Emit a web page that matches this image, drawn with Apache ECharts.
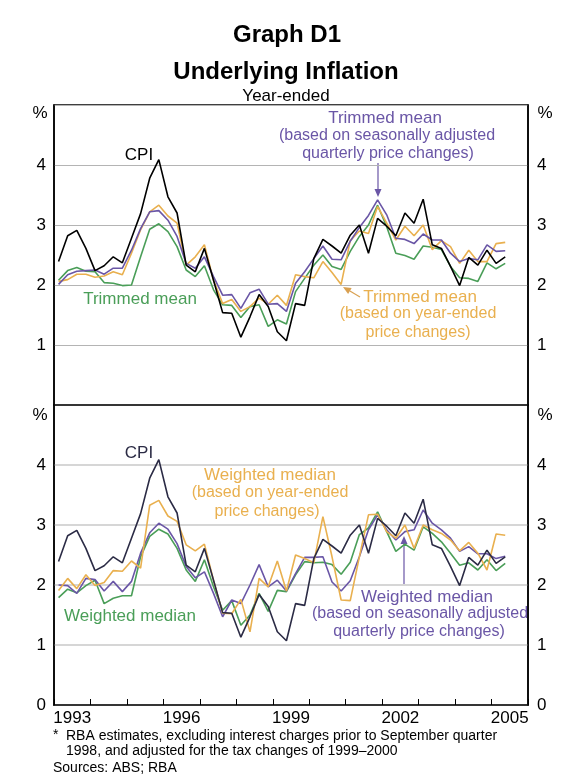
<!DOCTYPE html>
<html>
<head>
<meta charset="utf-8">
<script src="https://cdn.jsdelivr.net/npm/echarts@6/dist/echarts.min.js"></script>
<style>
  html, body { margin: 0; padding: 0; background: #ffffff; }
  #chart { width: 569px; height: 783px; }
</style>
</head>
<body>
<div id="chart"></div>
<script>
// quarterly, 1993 Q1 to 2005 Q2
const FIRST_YEAR = 1993
const N_QUARTERS = 50
const quarters = Array.from({ length: N_QUARTERS }, (_, i) => FIRST_YEAR + (i + 0.5) / 4)

const tickYears = [1993, 1994, 1995, 1996, 1997, 1998, 1999, 2000, 2001, 2002, 2003, 2004, 2005, 2006]
const labelYears = [1993, 1996, 1999, 2002, 2005]

const cpi = [2.39, 2.82, 2.91, 2.61, 2.24, 2.32, 2.47, 2.37, 2.78, 3.19, 3.78, 4.09, 3.47, 3.2, 2.33, 2.22, 2.61, 2.08,
  1.54, 1.53, 1.13, 1.47, 1.84, 1.64, 1.22, 1.07, 1.69, 1.66, 2.44, 2.76, 2.65, 2.53, 2.83, 3.0, 2.53, 3.11,
  2.98, 2.82, 3.2, 3.03, 3.43, 2.67, 2.61, 2.31, 1.99, 2.46, 2.33, 2.58, 2.36, 2.47]

const trimmedMean = [2.08, 2.24, 2.29, 2.23, 2.22, 2.04, 2.03, 1.99, 2.0, 2.47, 2.93, 3.02, 2.89, 2.64, 2.25, 2.14, 2.32, 1.92,
  1.67, 1.66, 1.46, 1.64, 1.67, 1.31, 1.42, 1.35, 1.89, 2.11, 2.33, 2.5, 2.31, 2.26, 2.56, 2.81, 3.0, 3.33,
  2.97, 2.53, 2.49, 2.43, 2.65, 2.63, 2.59, 2.31, 2.12, 2.11, 2.06, 2.37, 2.27, 2.36]

const trimmedMeanSA = [2.01, 2.17, 2.23, 2.24, 2.25, 2.18, 2.28, 2.28, 2.58, 2.94, 3.22, 3.24, 3.08, 2.81, 2.36, 2.28, 2.47, 2.14,
  1.83, 1.84, 1.61, 1.87, 1.93, 1.68, 1.69, 1.56, 2.03, 2.22, 2.44, 2.65, 2.43, 2.42, 2.73, 2.96, 3.16, 3.42,
  3.17, 2.78, 2.76, 2.69, 2.85, 2.75, 2.75, 2.53, 2.39, 2.44, 2.42, 2.67, 2.56, 2.57]

const trimmedMeanYE = [2.06, 2.09, 2.18, 2.18, 2.13, 2.15, 2.22, 2.17, 2.53, 2.92, 3.22, 3.33, 3.15, 3.03, 2.33, 2.47, 2.67, 2.08,
  1.69, 1.76, 1.56, 1.64, 1.78, 1.68, 1.83, 1.66, 2.17, 2.14, 2.12, 2.39, 2.21, 2.01, 2.74, 2.9, 2.86, 3.31,
  3.03, 2.75, 2.98, 2.82, 3.0, 2.59, 2.74, 2.64, 2.36, 2.58, 2.39, 2.39, 2.69, 2.71]

const weightedMedian = [1.79, 1.93, 1.87, 1.99, 2.08, 1.69, 1.78, 1.82, 1.82, 2.47, 2.81, 2.93, 2.85, 2.61, 2.25, 2.06, 2.42, 1.97,
  1.58, 1.74, 1.33, 1.5, 1.86, 1.56, 1.91, 1.89, 2.17, 2.39, 2.37, 2.38, 2.34, 2.18, 2.38, 2.84, 2.95, 3.22,
  2.89, 2.56, 2.68, 2.58, 2.97, 2.86, 2.72, 2.53, 2.33, 2.37, 2.25, 2.42, 2.24, 2.36]

const weightedMedianSA = [2.0, 1.99, 1.86, 2.11, 2.09, 1.9, 2.06, 1.89, 2.06, 2.53, 2.87, 3.03, 2.93, 2.69, 2.31, 2.12, 2.22, 1.86,
  1.47, 1.75, 1.69, 2.0, 2.34, 1.97, 2.08, 1.9, 2.19, 2.46, 2.46, 2.47, 2.05, 1.9, 2.07, 2.47, 2.92, 3.17,
  2.92, 2.75, 2.89, 2.92, 3.25, 3.03, 2.92, 2.78, 2.56, 2.64, 2.52, 2.52, 2.44, 2.48]

const weightedMedianYE = [1.91, 2.11, 1.94, 2.17, 1.99, 2.04, 2.24, 2.23, 2.4, 2.28, 3.33, 3.41, 3.15, 3.06, 2.67, 2.57, 2.68, 2.08,
  1.53, 1.52, 1.76, 1.22, 2.11, 1.97, 2.4, 1.9, 2.5, 2.44, 2.37, 3.14, 2.47, 1.75, 1.74, 2.47, 3.17, 3.18,
  2.89, 2.78, 3.0, 2.61, 3.0, 2.92, 2.86, 2.75, 2.57, 2.71, 2.53, 2.25, 2.85, 2.83]

const GREEN = '#4a9e58'
const PURPLE = '#6a56a6'
const ORANGE = '#e9b04f'
const NAVY = '#2b2b45'
const FONT = '"Liberation Sans", Arial, sans-serif'

const pairs = vals => vals.map((v, i) => [quarters[i], v])

const chart = echarts.init(document.getElementById('chart'), null, { renderer: 'canvas' })

function yAxisFor (gridIndex, position, hideZero, gridColor, gridWidth) {
  return {
    type: 'value', gridIndex, position, min: 0, max: 5, interval: 1,
    axisLine: { show: true, onZero: false, lineStyle: { color: '#000', width: 1.5 } },
    axisTick: { show: false },
    axisLabel: {
      color: '#000', fontSize: 17, fontFamily: FONT, margin: position === 'left' ? 8 : 9,
      formatter: v => (v === 5 || (hideZero && v === 0)) ? '' : String(v)
    },
    splitLine: { show: position === 'left', lineStyle: { color: gridColor, width: gridWidth } }
  }
}

function line (name, vals, color, xIdx, yIdx) {
  return {
    name, type: 'line', data: pairs(vals), xAxisIndex: xIdx, yAxisIndex: yIdx,
    symbol: 'none', lineStyle: { color, width: 1.6 }, itemStyle: { color }
  }
}

function txt (x, y, text, color, size, align, weight) {
  return {
    type: 'text', x, y,
    style: { text, fill: color, fontSize: size, fontFamily: FONT, fontWeight: weight || 'normal', align: align || 'center', verticalAlign: 'middle' }
  }
}

function arrow (x1, y1, x2, y2, color) {
  const ang = Math.atan2(y2 - y1, x2 - x1)
  const L = 8; const W = 3.5
  const bx = x2 - L * Math.cos(ang); const by = y2 - L * Math.sin(ang)
  const px = -Math.sin(ang) * W; const py = Math.cos(ang) * W
  return [
    { type: 'line', shape: { x1, y1, x2: bx, y2: by }, style: { stroke: color, lineWidth: 1.2 } },
    { type: 'polygon', shape: { points: [[x2, y2], [bx + px, by + py], [bx - px, by - py]] }, style: { fill: color } }
  ]
}

chart.setOption({
  backgroundColor: '#ffffff',
  animation: false,
  grid: [
    { left: 54, right: 41, top: 105, height: 300, show: true, borderColor: '#000', borderWidth: 1.5, backgroundColor: 'transparent' },
    { left: 54, right: 41, top: 405, height: 300, show: true, borderColor: '#000', borderWidth: 1.5, backgroundColor: 'transparent' }
  ],
  xAxis: [
    {
      type: 'value', gridIndex: 0, min: 1993, max: 2006,
      axisLine: { show: true, onZero: false, lineStyle: { color: '#000', width: 1.5 } },
      axisTick: { show: false }, axisLabel: { show: false }, splitLine: { show: false }
    },
    {
      type: 'value', gridIndex: 1, min: 1993, max: 2006,
      axisLine: { show: true, onZero: false, lineStyle: { color: '#000', width: 1.5 } },
      axisTick: { show: true, inside: true, length: 6, customValues: tickYears, lineStyle: { color: '#000', width: 1 } },
      axisLabel: {
        color: '#000', fontSize: 17, fontFamily: FONT, margin: 5,
        customValues: labelYears.map(y => y + 0.5), formatter: v => String(Math.floor(v))
      },
      splitLine: { show: false }
    }
  ],
  yAxis: [
    yAxisFor(0, 'left', true, '#b4b4b4', 1),
    yAxisFor(0, 'right', true, '#b4b4b4', 1),
    yAxisFor(1, 'left', false, '#d6d6d6', 2),
    yAxisFor(1, 'right', false, '#d6d6d6', 2)
  ],
  series: [
    line('Trimmed mean', trimmedMean, GREEN, 0, 0),
    line('Trimmed mean (year-ended)', trimmedMeanYE, ORANGE, 0, 0),
    line('Trimmed mean (seasonally adjusted)', trimmedMeanSA, PURPLE, 0, 0),
    line('CPI', cpi, '#000000', 0, 0),
    line('Weighted median', weightedMedian, GREEN, 1, 2),
    line('Weighted median (seasonally adjusted)', weightedMedianSA, PURPLE, 1, 2),
    line('Weighted median (year-ended)', weightedMedianYE, ORANGE, 1, 2),
    line('CPI ', cpi, NAVY, 1, 2)
  ],
  graphic: [
    txt(287, 35, 'Graph D1', '#000', 24, 'center', 'bold'),
    txt(286, 72, 'Underlying Inflation', '#000', 24, 'center', 'bold'),
    txt(286, 96, 'Year-ended', '#000', 17),
    txt(40, 113, '%', '#000', 17),
    txt(545, 113, '%', '#000', 17),
    txt(40, 415, '%', '#000', 17),
    txt(545, 415, '%', '#000', 17),

    txt(139, 155, 'CPI', '#000', 17),
    txt(140, 299, 'Trimmed mean', GREEN, 17),
    txt(385, 118, 'Trimmed mean', PURPLE, 17),
    txt(387, 136, '(based on seasonally adjusted', PURPLE, 16),
    txt(388, 154, 'quarterly price changes)', PURPLE, 16),
    ...arrow(378, 163, 378, 197, PURPLE),
    txt(420, 297, 'Trimmed mean', ORANGE, 17),
    txt(418, 314, '(based on year-ended', ORANGE, 16),
    txt(418, 333, 'price changes)', ORANGE, 16),
    ...arrow(360, 297, 343, 287, '#d9a050'),

    txt(139, 453, 'CPI', NAVY, 17),
    txt(270, 475, 'Weighted median', ORANGE, 17),
    txt(270, 493, '(based on year-ended', ORANGE, 16),
    txt(267, 512, 'price changes)', ORANGE, 16),
    txt(130, 616, 'Weighted median', GREEN, 17),
    txt(427, 597, 'Weighted median', PURPLE, 17),
    txt(420, 614, '(based on seasonally adjusted', PURPLE, 16),
    txt(419, 632, 'quarterly price changes)', PURPLE, 16),
    ...arrow(404, 586, 404, 536, PURPLE),

    txt(53, 735, '*', '#000', 14, 'left'),
    txt(66, 736, 'RBA estimates, excluding interest charges prior to September quarter', '#000', 14, 'left'),
    txt(66, 751, '1998, and adjusted for the tax changes of 1999\u20132000', '#000', 14, 'left'),
    txt(53, 768, 'Sources: ABS; RBA', '#000', 14, 'left')
  ]
})
</script>
</body>
</html>
